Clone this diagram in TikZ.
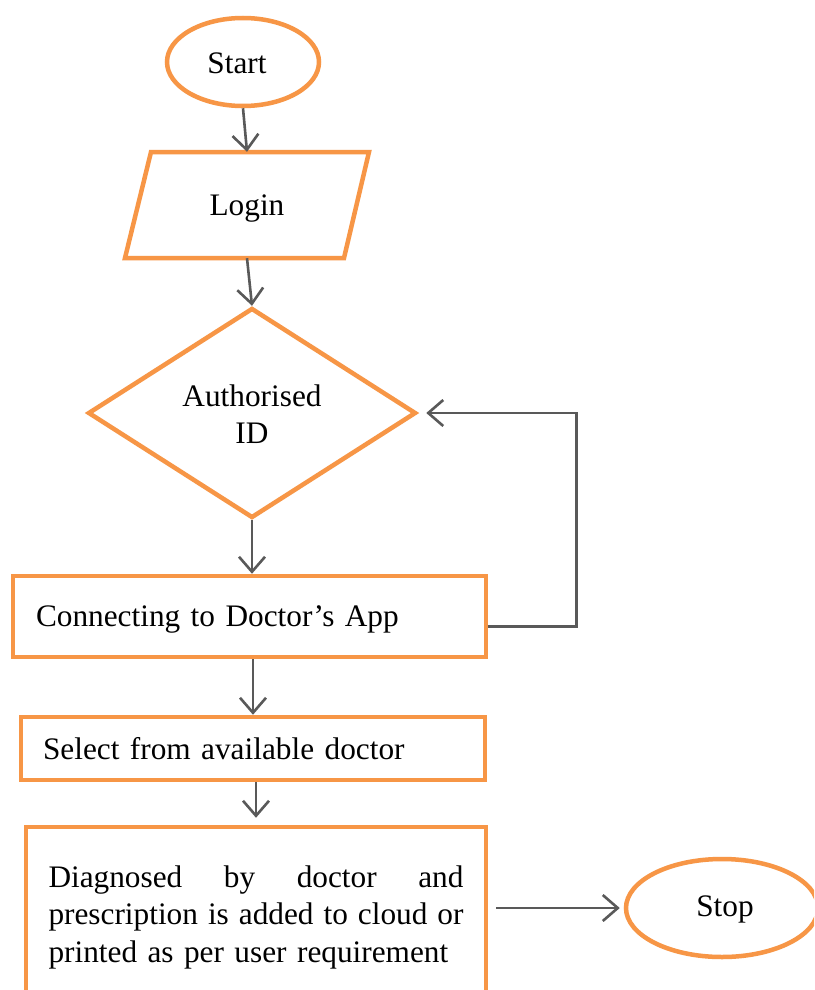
\documentclass[tikz,border=0pt]{standalone}
\usepackage{fontspec}
\setmainfont{Liberation Serif}
\usetikzlibrary{shapes.geometric,arrows.meta}
\definecolor{orng}{HTML}{F79646}
\definecolor{darkg}{HTML}{595959}
\tikzset{
  shp/.style={draw=orng, line width=4.5pt, inner sep=0pt},
  boxtext/.style={shp, rectangle, align=left},
  conn/.style={draw=darkg, line width=2.6pt, -{Straight Barb[length=15pt,width=26pt]}}
}
\begin{document}
\begin{tikzpicture}[x=1pt,y=-1pt,font=\fontsize{31.3}{37.5}\selectfont]
\useasboundingbox (0,0) rectangle (814,990);
\clip (0,0) rectangle (814,990);
\fill[white] (0,0) rectangle (814,990);
% Start
\node[shp, ellipse, minimum width=152pt, minimum height=88pt] (start) at (243,62) {};
\node[inner sep=0pt] (starttxt) at (237,63) {Start};
% Login parallelogram
\draw[draw=orng, line width=4.5pt, line join=miter] (151,152) -- (369,152) -- (344,258) -- (125,258) -- cycle;
\node[minimum height=106pt, minimum width=200pt, inner sep=0pt, text depth=0pt] (login) at (247,205) {Login};
% Diamond
\node[shp, diamond, minimum width=328pt, minimum height=210pt] (auth) at (252,413) {};
\node[align=center, inner sep=0pt] (authtxt) at (252,414) {Authorised\\ID};
% Connecting box
\node[boxtext, minimum width=473pt, minimum height=81pt, text width=427pt, inner xsep=23pt, text depth=0pt] (connapp) at (249.5,616.5) {Connecting to Doctor’s App};
% Select box
\node[boxtext, minimum width=464pt, minimum height=63pt, text width=420pt, inner xsep=22pt, text depth=0pt] (select) at (253,748.5) {Select from available doctor};
% Diagnosed box
\node[boxtext, minimum width=460pt, minimum height=180pt, text width=415pt, inner xsep=22.5pt] (diag) at (256,917) {\makebox[415pt][l]{Diagnosed\hfill by\hfill doctor\hfill and}\\
\makebox[415pt][l]{prescription\hfill is\hfill added\hfill to\hfill cloud\hfill or}\\
printed as per user requirement};
% Stop
\node[shp, ellipse, minimum width=192pt, minimum height=98pt] (stop) at (722,908) {};
\node[inner sep=0pt] (stoptxt) at (725,909) {Stop};
% connectors
\draw[conn] (start.south) -- (login.north);
\draw[conn] (login.south) -- (auth.north);
\draw[conn] (auth.south) -- (auth.south |- connapp.north);
\draw[conn] (select.north |- connapp.south) -- (select.north);
\draw[conn, shorten >=7pt] (diag.north |- select.south) -- (diag.north);
\draw[conn, shorten >=8pt] ([yshift=-10pt]connapp.east) -- ++(88,0) |- (auth.east);
\draw[conn, shorten <=8pt, shorten >=4pt] (diag.east |- stop.west) -- (stop.west);
\end{tikzpicture}
\end{document}
